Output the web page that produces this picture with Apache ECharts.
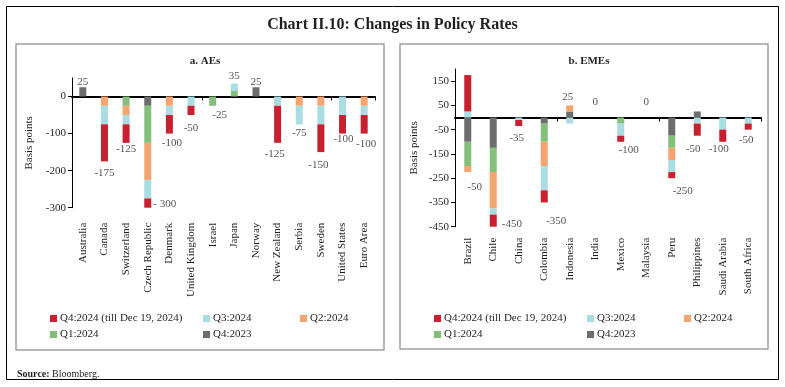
<!DOCTYPE html>
<html>
<head>
<meta charset="utf-8">
<script src="https://cdn.jsdelivr.net/npm/echarts@6/dist/echarts.min.js"></script>
<style>html,body{margin:0;padding:0;background:#fff}#c{width:785px;height:387px}</style>
</head>
<body>
<div id="c"></div>
<script>
// ---- data ----
const seriesNames = ['Q4:2023', 'Q1:2024', 'Q2:2024', 'Q3:2024', 'Q4:2024 (till Dec 19, 2024)'];

const aeCategories = ['Australia', 'Canada', 'Switzerland', 'Czech Republic', 'Denmark', 'United Kingdom', 'Israel', 'Japan', 'Norway', 'New Zealand', 'Serbia', 'Sweden', 'United States', 'Euro Area'];
const aeQ4_2023 = [25, 0, 0, -25, 0, 0, 0, 0, 25, 0, 0, 0, 0, 0];
const aeQ1_2024 = [0, 0, -25, -100, 0, 0, -25, 15, 0, 0, 0, 0, 0, 0];
const aeQ2_2024 = [0, -25, -25, -100, -25, 0, 0, 0, 0, 0, -25, -25, 0, -25];
const aeQ3_2024 = [0, -50, -25, -50, -25, -25, 0, 20, 0, -25, -50, -50, -50, -25];
const aeQ4_2024 = [0, -100, -50, -25, -50, -25, 0, 0, 0, -100, 0, -75, -50, -50];
const aeTotalLabels = ['25', '-175', '-125', '- 300', '-100', '-50', '-25', '35', '25', '-125', '-75', '-150', '-100', '-100'];

const emeCategories = ['Brazil', 'Chile', 'China', 'Colombia', 'Indonesia', 'India', 'Mexico', 'Malaysia', 'Peru', 'Philippines', 'Saudi Arabia', 'South Africa'];
const emeQ4_2023 = [-100, -125, 0, -25, 25, 0, 0, 0, -75, 25, 0, 0];
const emeQ1_2024 = [-100, -100, 0, -75, 0, 0, -25, 0, -50, 0, 0, 0];
const emeQ2_2024 = [-25, -150, 0, -100, 25, 0, 0, 0, -50, 0, 0, 0];
const emeQ3_2024 = [25, -25, -10, -100, -25, 0, -50, 0, -50, -25, -50, -25];
const emeQ4_2024 = [150, -50, -25, -50, 0, 0, -25, 0, -25, -50, -50, -25];
const emeTotalLabels = ['-50', '-450', '-35', '-350', '25', '0', '-100', '0', '-250', '-50', '-100', '-50'];

const aeTicks = [-300, -200, -100, 0];
const emeTicks = [-450, -350, -250, -150, -50, 50, 150];

// ---- styles ----
const FONT = 'Liberation Serif';
const TXT = '#231f20';
const colors = {
  'Q4:2023': '#6d6d6d',
  'Q1:2024': '#84c07b',
  'Q2:2024': '#f5a36f',
  'Q3:2024': '#a8dde3',
  'Q4:2024 (till Dec 19, 2024)': '#c8202e'
};
// label placement per category: [position, dx, dy]
const aeLabelStyle = [['top',0,0],['bottom',0,6.5],['bottom',0,1],['right',5.5,-3.5],['bottom',2.5,4.5],['bottom',0,8],['bottom',7,3.5],['top',0,-1.5],['top',0,0],['bottom',-3,6],['bottom',0,3],['bottom',-2.5,7],['bottom',1,0.5],['bottom',2,5.5]];
const emeLabelStyle = [['bottom',7,9.5],['right',8.5,-3],['bottom',-2,7],['bottom',12,13],['top',-2,-2.5],['top',0,-9.5],['bottom',8,2.5],['top',0,-9.5],['bottom',11,7.5],['bottom',-4,8],['bottom',-4,2],['bottom',-2,5]];

function anchors(arrs, n) {
  const out = [];
  for (let i = 0; i < n; i++) {
    let pos = 0, neg = 0;
    arrs.forEach(a => { if (a[i] > 0) pos += a[i]; else neg += a[i]; });
    const tot = pos + neg;
    out.push(tot < 0 ? neg : (tot > 0 ? pos : 0));
  }
  return out;
}

function barSeries(arrs, stack, xi, yi) {
  return arrs.map((a, k) => ({
    type: 'bar', name: seriesNames[k], stack: stack, xAxisIndex: xi, yAxisIndex: yi,
    data: a, barWidth: 7, itemStyle: { color: colors[seriesNames[k]] }, silent: true
  }));
}

function labelSeries(arrs, labels, styles, xi, yi) {
  const anc = anchors(arrs, labels.length);
  return {
    type: 'scatter', xAxisIndex: xi, yAxisIndex: yi, symbolSize: 0, silent: true, z: 10,
    data: anc.map((v, i) => ({
      value: [i, v],
      label: {
        show: true, position: styles[i][0], distance: 0, offset: [styles[i][1], styles[i][2]],
        formatter: labels[i], fontFamily: FONT, fontSize: 11, color: TXT
      }
    }))
  };
}

const aeArrs = [aeQ4_2023, aeQ1_2024, aeQ2_2024, aeQ3_2024, aeQ4_2024];
const emeArrs = [emeQ4_2023, emeQ1_2024, emeQ2_2024, emeQ3_2024, emeQ4_2024];

function catAxes(cats, gi, margin) {
  return [
    { type: 'category', gridIndex: gi, data: cats,
      axisLine: { onZero: true, lineStyle: { color: '#000', width: 2 } },
      axisTick: { show: true, length: 4, lineStyle: { color: '#000' } },
      axisLabel: { show: false } },
    { type: 'category', gridIndex: gi, data: cats, position: 'bottom',
      axisLine: { show: false, onZero: false }, axisTick: { show: false },
      axisLabel: { rotate: 90, margin: margin, fontFamily: FONT, fontSize: 11, color: TXT, interval: 0 } }
  ];
}

function valAxis(gi, min, max, ticks, nameGap) {
  return {
    type: 'value', gridIndex: gi, min: min, max: max, interval: 50,
    name: 'Basis points', nameLocation: 'middle', nameGap: nameGap, nameRotate: 90,
    nameTextStyle: { fontFamily: FONT, fontSize: 11, color: TXT },
    splitLine: { show: false },
    axisLine: { show: true, lineStyle: { color: '#000', width: 1 } },
    axisTick: { show: true, length: 4, customValues: ticks, lineStyle: { color: '#000' } },
    axisLabel: { customValues: ticks, margin: 6, fontFamily: FONT, fontSize: 11, color: TXT,
      formatter: v => (ticks.indexOf(v) >= 0 ? String(v) : '') }
  };
}

function legends(x1, x2, x3, y1, y2) {
  const pos = [
    ['Q4:2024 (till Dec 19, 2024)', x1, y1], ['Q3:2024', x2, y1], ['Q2:2024', x3, y1],
    ['Q1:2024', x1, y2], ['Q4:2023', x2, y2]
  ];
  return pos.map(p => ({
    data: [p[0]], left: p[1], top: p[2], padding: 0, itemWidth: 7, itemHeight: 7, icon: 'rect',
    selectedMode: false, itemGap: 4,
    textStyle: { fontFamily: FONT, fontSize: 11, color: TXT, padding: [0, 0, 0, -2] }
  }));
}

const chart = echarts.init(document.getElementById('c'), null, { renderer: 'canvas' });
chart.setOption({
  animation: false,
  backgroundColor: '#fff',
  title: [
    { text: 'Chart II.10: Changes in Policy Rates', left: 'center', top: 12,
      textStyle: { fontFamily: FONT, fontSize: 16, fontWeight: 'bold', color: TXT } },
    { text: 'a. AEs', left: 200, top: 51, textAlign: 'center',
      textStyle: { fontFamily: FONT, fontSize: 11, fontWeight: 'bold', color: TXT } },
    { text: 'b. EMEs', left: 584, top: 51, textAlign: 'center',
      textStyle: { fontFamily: FONT, fontSize: 11, fontWeight: 'bold', color: TXT } },
    { text: '{b|Source:} Bloomberg.', left: 12, top: 364,
      textStyle: { fontFamily: FONT, fontSize: 10, fontWeight: 'normal', color: TXT,
        rich: { b: { fontFamily: FONT, fontSize: 10, fontWeight: 'bold', color: TXT } } } }
  ],
  legend: legends(50, 203, 300, 313, 329).concat(legends(434, 587, 684, 313, 329)),
  grid: [
    { left: 72, right: 410, top: 78, bottom: 179.3 },
    { left: 455, right: 24, top: 69, bottom: 160.3 }
  ],
  xAxis: catAxes(aeCategories, 0, 15).concat(catAxes(emeCategories, 1, 11)),
  yAxis: [valAxis(0, -300, 50, aeTicks, 37), valAxis(1, -450, 200, emeTicks, 35)],
  series: barSeries(aeArrs, 'ae', 0, 0)
    .concat([labelSeries(aeArrs, aeTotalLabels, aeLabelStyle, 0, 0)])
    .concat(barSeries(emeArrs, 'eme', 2, 1))
    .concat([labelSeries(emeArrs, emeTotalLabels, emeLabelStyle, 2, 1)]),
  graphic: [
    { type: 'rect', shape: { x: 6.5, y: 6.5, width: 772, height: 373 }, style: { fill: null, stroke: '#000', lineWidth: 1 }, silent: true, z: -1 },
    { type: 'rect', shape: { x: 16, y: 44, width: 368, height: 306 }, style: { fill: null, stroke: '#a0a0a0', lineWidth: 1.5 }, silent: true, z: -1 },
    { type: 'rect', shape: { x: 400, y: 44, width: 368, height: 305 }, style: { fill: null, stroke: '#a0a0a0', lineWidth: 1.5 }, silent: true, z: -1 }
  ]
});
</script>
</body>
</html>
